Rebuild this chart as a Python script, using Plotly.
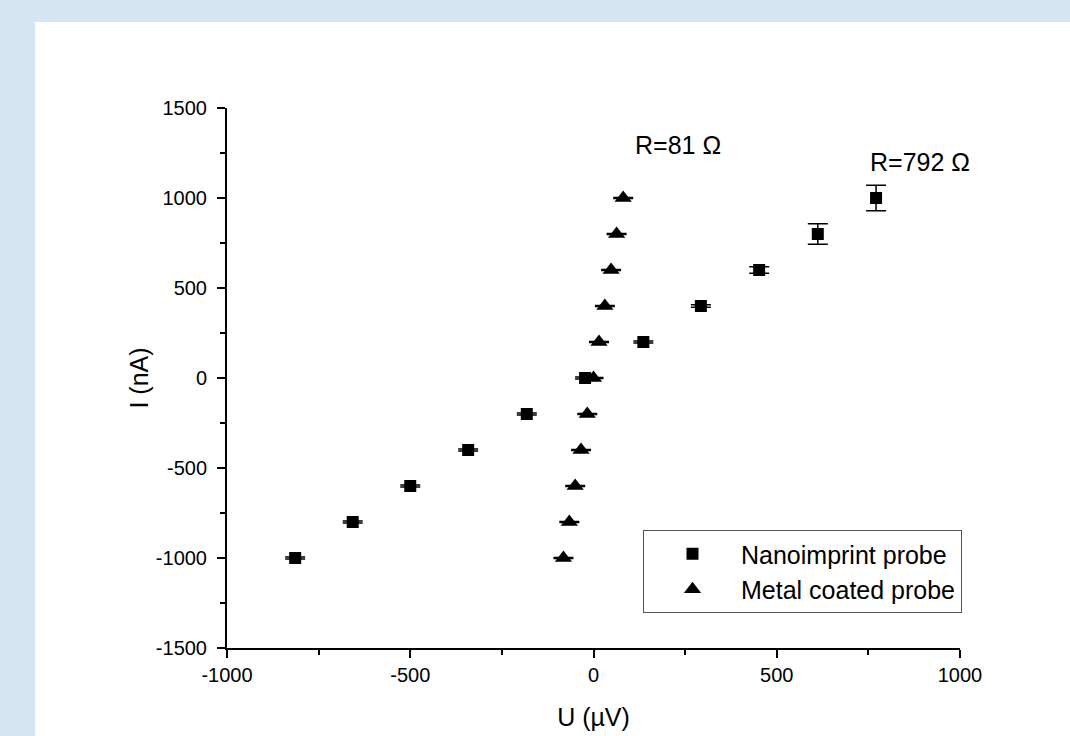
import plotly.graph_objects as go

# Data
I_nA = [-1000, -800, -600, -400, -200, 0, 200, 400, 600, 800, 1000]
U_nano = [-814, -657, -500, -342, -182, -23, 136, 293, 452, 612, 771]
err_nano = [5, 5, 5, 5, 5, 5, 5, 7, 18, 57, 71]
U_metal = [-82, -66, -50, -34, -17, 0, 15, 31, 48, 63, 81]
err_metal = [3, 3, 3, 3, 3, 3, 3, 3, 3, 3, 3]

x_ticks = [-1000, -500, 0, 500, 1000]
y_ticks = [-1500, -1000, -500, 0, 500, 1000, 1500]

FONT = "Arial, 'Liberation Sans', sans-serif"

fig = go.Figure()
fig.add_trace(go.Scatter(
    x=U_nano, y=I_nA, mode="markers", name="Nanoimprint probe",
    marker=dict(symbol="square", size=12, color="black"),
    error_y=dict(type="data", array=err_nano, visible=True, color="black",
                 thickness=1.5, width=10),
))
fig.add_trace(go.Scatter(
    x=U_metal, y=I_nA, mode="markers", name="Metal coated probe",
    marker=dict(symbol="triangle-up", size=15, color="black"),
    error_y=dict(type="data", array=err_metal, visible=True, color="black",
                 thickness=1.5, width=10),
))

L, R, T, B = 227, 110, 108, 88
W, H = 1070, 736
pw, ph = W - L - R, H - T - B

fig.add_shape(type="rect", xref="paper", yref="paper", layer="below",
              x0=(35 - L) / pw, x1=(W - L + 20) / pw,
              y0=-(B + 20) / ph, y1=(ph + T - 22) / ph,
              fillcolor="white", line=dict(width=0))

fig.add_annotation(x=231, y=1294, xref="x", yref="y", text="R=81 Ω", showarrow=False,
                   font=dict(size=25, color="black", family=FONT))
fig.add_annotation(x=891, y=1200, xref="x", yref="y", text="R=792 Ω", showarrow=False,
                   font=dict(size=25, color="black", family=FONT))

axis_common = dict(
    showline=True, linecolor="black", linewidth=2, mirror=False,
    showgrid=False, zeroline=False,
    ticks="outside", ticklen=8, tickwidth=2, tickcolor="black",
    tickfont=dict(size=20, color="black", family=FONT),
)

fig.update_xaxes(
    range=[-1000, 1000], tickvals=x_ticks, ticktext=[str(v) for v in x_ticks],
    minor=dict(ticks="outside", ticklen=5, tickwidth=2, tickcolor="black", dtick=250, tick0=0),
    title=dict(text="U (µV)", font=dict(size=25, color="black", family=FONT), standoff=23),
    **axis_common,
)
fig.update_yaxes(
    range=[-1500, 1500], tickvals=y_ticks, ticktext=[str(v) for v in y_ticks],
    minor=dict(ticks="outside", ticklen=5, tickwidth=2, tickcolor="black", dtick=250, tick0=0),
    title=dict(text="I (nA)", font=dict(size=25, color="black", family=FONT), standoff=0),
    ticklabelstandoff=6,
    **axis_common,
)

fig.update_layout(
    width=W, height=H,
    margin=dict(l=L, r=R, t=T, b=B, autoexpand=False),
    paper_bgcolor="#d5e5f3", plot_bgcolor="white",
    font=dict(family=FONT, color="black"),
    showlegend=True,
    legend=dict(
        x=(643 - L) / pw, y=(H - B - 530) / ph, xanchor="left", yanchor="top",
        bgcolor="white", bordercolor="#555555", borderwidth=1,
        font=dict(size=25, color="black", family=FONT),
        itemwidth=87, tracegroupgap=0,
    ),
)

fig.write_html(
    "out.html",
    config={"displayModeBar": False},
    post_script="document.body.style.margin='0px';document.body.style.overflow='hidden';",
)
